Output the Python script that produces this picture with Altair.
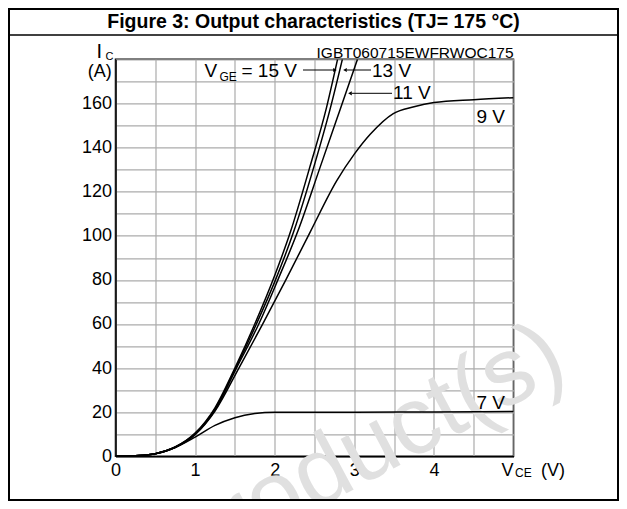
import altair as alt
import pandas as pd

# ---- data ----
vce_7 = [0, 0.25, 0.5, 0.75, 1.0, 1.25, 1.5, 1.75, 2.0, 2.5, 3.0, 4.0, 5.0]
ic_7 = [0, 0.3, 1.2, 4.0, 8.7, 14.0, 17.5, 19.4, 20.0, 20.0, 20.0, 20.1, 20.3]

vce_9 = [0, 0.25, 0.5, 0.75, 1.0, 1.25, 1.55, 1.85, 2.14, 2.45, 2.78, 3.0, 3.2, 3.49, 3.75, 4.0, 4.5, 5.0]
ic_9 = [0, 0.3, 1.2, 4.0, 9.8, 20.5, 40, 60, 80, 102, 125, 137, 146, 155.4, 158.5, 160.4, 161.7, 162.6]

vce_11 = [0, 0.25, 0.5, 0.75, 1.0, 1.25, 1.52, 1.8, 2.04, 2.29, 2.57, 2.81, 3.04]
ic_11 = [0, 0.3, 1.2, 4.1, 10.0, 21.0, 40, 60, 80, 102, 131, 156, 180]

vce_13 = [0, 0.25, 0.5, 0.75, 1.0, 1.25, 1.51, 1.77, 2.01, 2.24, 2.49, 2.70, 2.85]
ic_13 = [0, 0.3, 1.2, 4.2, 10.3, 21.5, 40, 60, 80, 102, 131, 158, 180]

vce_15 = [0, 0.25, 0.5, 0.75, 1.0, 1.25, 1.5, 1.75, 2.0, 2.2, 2.44, 2.65, 2.79]
ic_15 = [0, 0.3, 1.2, 4.2, 10.5, 22.0, 40, 60, 82, 102, 131, 158, 180]

series = {"7 V": (vce_7, ic_7), "9 V": (vce_9, ic_9), "11 V": (vce_11, ic_11),
          "13 V": (vce_13, ic_13), "15 V": (vce_15, ic_15)}

x_grid = [0, 0.5, 1, 1.5, 2, 2.5, 3, 3.5, 4, 4.5, 5]
y_grid = [0, 10, 20, 30, 40, 50, 60, 70, 80, 90, 100, 110, 120, 130, 140, 150, 160, 170, 180]

rows = []
for name, (xs, ys) in series.items():
    for i, (a, b) in enumerate(zip(xs, ys)):
        rows.append({"vge": name, "vce": a, "ic": b, "order": i})
df = pd.DataFrame(rows)

FONT = "Liberation Sans"
OX, OY = 115.5, 59.3   # plot origin on the page
W, H = 398, 397
dummy = pd.DataFrame({"a": [0]})


def txt(s, x, y, size, align="left", baseline="alphabetic", weight="normal", color="black", angle=0):
    return alt.Chart(dummy).mark_text(
        text=s, align=align, baseline=baseline, fontSize=size, fontWeight=weight,
        font=FONT, color=color, angle=angle
    ).encode(x=alt.value(x - OX), y=alt.value(y - OY))


def hline(x1, x2, y, width=1.0):
    return alt.Chart(dummy).mark_rule(color="black", strokeWidth=width).encode(
        x=alt.value(x1 - OX), x2=alt.value(x2 - OX), y=alt.value(y - OY))


def head(x, y, shape):
    return alt.Chart(dummy).mark_point(shape=shape, filled=True, color="black", size=18, opacity=1).encode(
        x=alt.value(x - OX), y=alt.value(y - OY))


watermark = txt("Product(s)", 180, 582, 96, color="#e0e0e0", angle=332)

curves = alt.Chart(df).mark_line(color="black", strokeWidth=1.5, clip=True, interpolate="monotone").encode(
    x=alt.X("vce:Q", scale=alt.Scale(domain=[0, 5], nice=False, zero=False),
            axis=alt.Axis(values=x_grid, title=None, grid=True, ticks=False,
                          gridColor="#ababab", gridWidth=1.2, gridOpacity=1,
                          domainColor="black", domainWidth=1.5,
                          labelFont=FONT, labelFontSize=18, labelColor="black",
                          labelPadding=5, labelAlign="center",
                          labelExpr="(datum.value % 1 == 0 && datum.value < 5) ? format(datum.value, 'd') : ''")),
    y=alt.Y("ic:Q", scale=alt.Scale(domain=[0, 180], nice=False),
            axis=alt.Axis(values=y_grid, title=None, grid=True, ticks=False,
                          gridColor="#ababab", gridWidth=1.2, gridOpacity=1,
                          domainColor="black", domainWidth=1.5,
                          labelFont=FONT, labelFontSize=18, labelColor="black",
                          labelPadding=4,
                          labelExpr="(datum.value % 20 == 0 && datum.value <= 160) ? format(datum.value, 'd') : ''")),
    detail="vge:N",
    order="order:Q",
)

border = alt.Chart(dummy).mark_rect(fillOpacity=0, stroke="black", strokeWidth=2).encode(
    x=alt.value(9 - OX), x2=alt.value(618 - OX), y=alt.value(9 - OY), y2=alt.value(500 - OY))

layers = [
    watermark,
    curves,
    border,
    hline(9, 618, 35, 1.5),
    txt("Figure 3: Output characteristics (TJ= 175 °C)", 313.5, 28, 19.5, align="center", weight="bold"),
    txt("IGBT060715EWFRWOC175", 513.5, 58.3, 15.5, align="right"),
    # y axis title
    txt("I", 96.5, 58, 20),
    txt("C", 105.5, 60, 11),
    txt("(A)", 111.7, 72, 18, align="right", baseline="middle"),
    # x axis title
    txt("V", 501.5, 475.5, 18),
    txt("CE", 515, 477, 12),
    txt("(V)", 541, 475.5, 18),
    # curve labels
    txt("V", 204.5, 76.7, 19),
    txt("GE", 219.5, 80.5, 12),
    txt("= 15 V", 241.5, 76.7, 19),
    hline(303, 334, 70),
    head(335, 70, "triangle-right"),
    txt("13 V", 372, 76.7, 19),
    hline(347, 371, 70),
    head(345, 70, "triangle-left"),
    txt("11 V", 393, 98.5, 19),
    hline(352, 392, 93.3),
    head(350, 93.3, "triangle-left"),
    txt("9 V", 476.5, 122.7, 19),
    txt("7 V", 476.5, 408.5, 19),
]

chart = alt.layer(*layers).properties(
    width=W, height=H,
    background="white",
    autosize=alt.AutoSizeParams(type="none"),
    padding={"left": OX - 8, "top": OY - 8, "right": 611 - (OX - 8) - W, "bottom": 493 - (OY - 8) - H},
).configure_view(
    stroke="black", strokeWidth=1.5
)

chart.save("out.html", embed_options={"renderer": "svg", "actions": False})
